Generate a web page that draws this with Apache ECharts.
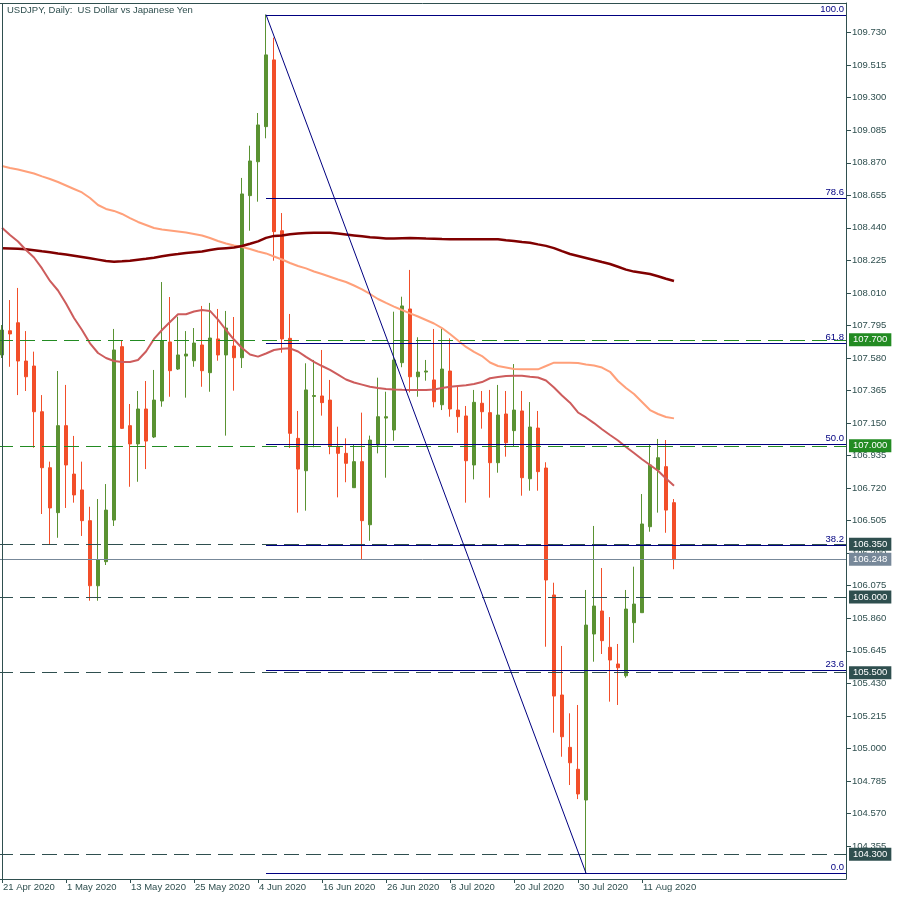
<!DOCTYPE html>
<html><head><meta charset="utf-8">
<script src="https://cdn.jsdelivr.net/npm/echarts@6/dist/echarts.min.js"></script>
<style>html,body{margin:0;padding:0;background:#fff}#c{width:900px;height:900px}</style>
</head><body><div id="c"></div>
<script>
const dates = ["21 Apr 2020","22 Apr 2020","23 Apr 2020","24 Apr 2020","27 Apr 2020","28 Apr 2020","29 Apr 2020","30 Apr 2020",
"1 May 2020","4 May 2020","5 May 2020","6 May 2020","7 May 2020","8 May 2020","11 May 2020","12 May 2020",
"13 May 2020","14 May 2020","15 May 2020","18 May 2020","19 May 2020","20 May 2020","21 May 2020","22 May 2020",
"25 May 2020","26 May 2020","27 May 2020","28 May 2020","29 May 2020","1 Jun 2020","2 Jun 2020","3 Jun 2020",
"4 Jun 2020","5 Jun 2020","8 Jun 2020","9 Jun 2020","10 Jun 2020","11 Jun 2020","12 Jun 2020","15 Jun 2020",
"16 Jun 2020","17 Jun 2020","18 Jun 2020","19 Jun 2020","22 Jun 2020","23 Jun 2020","24 Jun 2020","25 Jun 2020",
"26 Jun 2020","29 Jun 2020","30 Jun 2020","1 Jul 2020","2 Jul 2020","3 Jul 2020","6 Jul 2020","7 Jul 2020",
"8 Jul 2020","9 Jul 2020","10 Jul 2020","13 Jul 2020","14 Jul 2020","15 Jul 2020","16 Jul 2020","17 Jul 2020",
"20 Jul 2020","21 Jul 2020","22 Jul 2020","23 Jul 2020","24 Jul 2020","27 Jul 2020","28 Jul 2020","29 Jul 2020",
"30 Jul 2020","31 Jul 2020","3 Aug 2020","4 Aug 2020","5 Aug 2020","6 Aug 2020","7 Aug 2020","10 Aug 2020",
"11 Aug 2020","12 Aug 2020","13 Aug 2020","14 Aug 2020","17 Aug 2020"];
const futureDates = ["18 Aug 2020","19 Aug 2020","20 Aug 2020","21 Aug 2020","24 Aug 2020","25 Aug 2020","26 Aug 2020","27 Aug 2020",
"28 Aug 2020","31 Aug 2020","1 Sep 2020","2 Sep 2020","3 Sep 2020","4 Sep 2020","7 Sep 2020","8 Sep 2020","9 Sep 2020",
"10 Sep 2020","11 Sep 2020","14 Sep 2020","15 Sep 2020"];

const opens = [107.600,107.760,107.813,107.560,107.527,107.225,106.855,106.558,107.133,106.813,106.708,106.505,106.075,106.234,106.509,107.655,
107.133,107.012,107.243,107.058,107.296,107.686,107.507,107.593,107.562,107.666,107.483,107.706,107.600,107.659,107.582,108.653,
108.877,109.109,109.550,108.421,107.710,107.049,106.835,107.326,107.329,107.302,106.994,106.950,106.723,106.895,106.478,107.005,
107.183,107.104,107.549,107.904,107.456,107.487,107.435,107.271,107.494,107.236,107.197,106.873,107.281,107.219,106.888,107.210,
107.100,107.230,106.782,107.117,106.853,106.014,105.353,105.007,104.862,104.659,105.756,105.908,105.668,105.558,105.480,105.831,
105.897,106.465,106.840,106.862,106.624];
const highs = [107.798,107.963,108.043,107.758,107.622,107.335,106.895,107.494,107.402,107.065,106.895,106.597,106.648,106.747,107.772,107.694,
107.276,107.362,107.428,107.501,108.082,107.983,107.853,107.758,107.778,107.924,107.944,107.904,107.891,107.851,108.770,108.983,
109.199,109.849,109.697,108.538,107.871,107.230,107.545,107.567,107.633,107.435,107.126,107.049,107.005,107.219,107.067,107.450,
107.357,107.886,107.985,108.162,107.717,107.567,107.772,107.772,107.710,107.390,107.263,107.369,107.362,107.369,107.402,107.362,
107.540,107.362,107.289,107.230,106.891,106.095,105.677,105.232,105.287,106.047,106.470,106.192,105.868,105.690,106.047,106.201,
106.681,107.005,107.045,107.038,106.648];
const lows = [107.580,107.522,107.335,107.362,106.987,106.549,106.349,106.392,106.589,106.624,106.404,105.976,105.976,106.212,106.470,107.111,
106.729,106.762,106.846,107.051,107.258,107.324,107.501,107.318,107.522,107.390,107.357,107.562,107.067,107.364,107.514,108.421,
108.613,109.032,108.223,107.615,106.985,106.558,106.571,106.990,107.199,106.944,106.659,106.759,106.723,106.250,106.372,106.950,
106.789,107.033,107.519,107.353,107.324,107.430,107.254,107.236,107.192,107.086,106.624,106.778,107.113,106.657,106.822,106.928,
106.998,106.670,106.703,106.703,105.672,105.104,104.945,104.758,104.665,104.176,105.573,105.624,105.309,105.287,105.467,105.698,
105.897,106.432,106.558,106.425,106.184];
const closes = [107.765,107.739,107.560,107.456,107.225,106.855,106.589,107.133,106.873,106.675,106.505,106.075,106.245,106.575,107.633,107.115,
107.012,107.243,107.031,107.302,107.694,107.496,107.600,107.606,107.679,107.496,107.712,107.600,107.778,107.582,108.664,108.882,
109.120,109.583,108.415,107.706,107.082,106.846,107.369,107.332,107.285,106.998,106.950,106.884,106.895,106.505,107.038,107.192,
107.192,107.567,107.924,107.456,107.487,107.494,107.291,107.507,107.243,107.192,106.901,107.287,107.225,106.888,107.203,107.020,
107.236,106.789,107.124,106.829,106.113,105.346,105.077,104.905,104.699,105.815,105.941,105.712,105.584,105.533,105.921,105.954,
106.483,106.873,106.921,106.575,106.248];

const maSalmon = [108.849,108.836,108.826,108.813,108.799,108.780,108.763,108.743,108.720,108.697,108.674,108.637,108.591,108.565,108.552,108.532,
108.505,108.479,108.459,108.439,108.429,108.423,108.416,108.409,108.400,108.390,108.373,108.353,108.337,108.324,108.314,108.300,
108.284,108.271,108.251,108.231,108.208,108.188,108.172,108.152,108.135,108.117,108.099,108.082,108.059,108.033,108.003,107.970,
107.944,107.920,107.897,107.875,107.854,107.831,107.808,107.778,107.739,107.696,107.653,107.620,107.593,107.550,107.527,107.517,
107.507,107.505,107.505,107.505,107.527,107.549,107.549,107.549,107.547,107.537,107.530,107.517,107.489,107.428,107.382,107.342,
107.289,107.236,107.210,107.190,107.181];
const maMaroon = [108.305,108.304,108.302,108.298,108.292,108.285,108.279,108.271,108.264,108.256,108.248,108.239,108.230,108.221,108.216,108.219,
108.223,108.230,108.236,108.243,108.252,108.261,108.267,108.274,108.279,108.284,108.294,108.302,108.306,108.310,108.320,108.335,
108.351,108.374,108.387,108.390,108.398,108.402,108.406,108.408,108.408,108.408,108.402,108.396,108.390,108.384,108.378,108.374,
108.370,108.369,108.371,108.373,108.371,108.369,108.368,108.366,108.365,108.365,108.365,108.365,108.365,108.365,108.364,108.358,
108.353,108.347,108.342,108.331,108.321,108.306,108.286,108.267,108.254,108.241,108.228,108.214,108.201,108.183,108.164,108.151,
108.143,108.135,108.120,108.104,108.089];
const maRed = [108.441,108.393,108.350,108.294,108.244,108.172,108.089,108.026,107.940,107.844,107.765,107.677,107.613,107.580,107.560,107.554,
107.554,107.567,107.623,107.706,107.765,107.818,107.869,107.869,107.887,107.897,107.891,107.834,107.765,107.702,107.646,107.603,
107.589,107.610,107.633,107.641,107.644,107.623,107.587,107.554,107.527,107.501,107.470,107.438,107.418,107.404,107.390,107.382,
107.375,107.372,107.370,107.369,107.369,107.369,107.372,107.382,107.390,107.395,107.400,107.408,107.421,107.446,107.454,107.461,
107.463,107.462,107.456,107.451,107.431,107.385,107.332,107.285,107.220,107.187,107.150,107.109,107.071,107.035,106.992,106.952,
106.911,106.873,106.835,106.784,106.736];

const yTicks = [109.730,109.515,109.300,109.085,108.870,108.655,108.440,108.225,108.010,107.795,107.580,107.365,107.150,106.935,
106.720,106.505,106.290,106.075,105.860,105.645,105.430,105.215,105.000,104.785,104.570,104.355];
const greenLevels = [107.700, 107.000];
const darkLevels = [106.350, 106.000, 105.500, 104.300];
const bidPrice = 106.248;
const fibRatios = [100.0, 78.6, 61.8, 50.0, 38.2, 23.6, 0.0];
const fibPrices = [109.849, 108.635, 107.682, 107.013, 106.343, 105.515, 104.176];
const fibStartIndex = 33, fibEndIndex = 73;
const title = "USDJPY, Daily:  US Dollar vs Japanese Yen";

const FONT = "Liberation Sans";
const AX = "#2F4F4F";
const allDates = dates.concat(futureDates);
const ohlc = opens.map((o, i) => [o, closes[i], lows[i], highs[i]]);

function levelLine(v, color, dashed) {
  return {
    yAxis: v,
    lineStyle: { color: color, width: 1, type: dashed ? [15, 7] : 'solid' },
    label: { show: true, position: 'end', distance: 3, formatter: v.toFixed(3), color: '#fff',
      backgroundColor: color, padding: [2, 4, 1, 4], fontFamily: FONT, fontSize: 9.5 }
  };
}

const chart = echarts.init(document.getElementById('c'), null, { renderer: 'canvas' });
chart.setOption({
  animation: false,
  backgroundColor: '#fff',
  title: { text: title, left: 7, top: 5, padding: 0, textStyle: { fontFamily: FONT, fontSize: 9.5, fontWeight: 'normal', color: AX } },
  grid: { left: -2, right: 54, top: 3, bottom: 21, containLabel: false, outerBoundsMode: 'none' },
  xAxis: [{
    type: 'category', data: allDates, boundaryGap: true, position: 'bottom',
    axisLine: { show: true, lineStyle: { color: AX, width: 1 } },
    axisTick: { show: true, alignWithLabel: true, length: 4, lineStyle: { color: AX },
      interval: (i) => i % 8 === 0 && i < dates.length },
    axisLabel: { show: true, align: 'left', margin: 3, color: AX, fontFamily: FONT, fontSize: 9.5, padding: [0, 0, 0, 1],
      interval: (i) => i % 8 === 0 && i < dates.length, hideOverlap: false },
    splitLine: { show: false }
  }, {
    type: 'category', data: allDates, position: 'top', boundaryGap: true,
    axisLine: { show: true, lineStyle: { color: AX, width: 1 } },
    axisTick: { show: false }, axisLabel: { show: false }, splitLine: { show: false }
  }],
  yAxis: {
    type: 'value', position: 'right', min: 104.137, max: 109.926, scale: true,
    axisLine: { show: true, lineStyle: { color: AX, width: 1 } },
    axisTick: { show: true, length: 5, lineStyle: { color: AX }, customValues: yTicks },
    axisLabel: { show: true, margin: 6, color: AX, fontFamily: FONT, fontSize: 9.5, customValues: yTicks,
      formatter: (v) => v.toFixed(3) },
    splitLine: { show: false }
  },
  series: [
    {
      name: 'levels', type: 'line', data: [], z: 1, silent: true,
      markLine: {
        symbol: 'none', silent: true, animation: false,
        data: [
          ...greenLevels.map(v => levelLine(v, '#228B22', true)),
          ...darkLevels.map(v => levelLine(v, AX, true)),
          levelLine(bidPrice, '#778899', false),
          { xAxis: 0, lineStyle: { color: AX, width: 1, type: 'solid' }, label: { show: false } }
        ]
      }
    },
    {
      name: 'USDJPY', type: 'candlestick', data: ohlc, z: 3, barWidth: 4,
      itemStyle: { color: '#5A9232', color0: '#F24E29', borderColor: '#5A9232', borderColor0: '#F24E29', borderWidth: 1 },
      markLine: {
        symbol: 'none', silent: true, animation: false,
        lineStyle: { color: '#000080', width: 1, type: 'solid' }, label: { show: false },
        data: [[{ coord: [fibStartIndex, fibPrices[0]] }, { coord: [fibEndIndex, fibPrices[fibPrices.length - 1]] }]]
      }
    },
    { name: 'MA salmon', type: 'line', data: maSalmon, symbol: 'none', z: 4, lineStyle: { color: '#FFA07A', width: 2 } },
    { name: 'MA maroon', type: 'line', data: maMaroon, symbol: 'none', z: 4, lineStyle: { color: '#800000', width: 2.5 } },
    { name: 'MA red', type: 'line', data: maRed, symbol: 'none', z: 4, lineStyle: { color: '#CD5C5C', width: 2 } },
    {
      name: 'fib', type: 'custom', z: 5, silent: true,
      data: fibPrices.map((p, i) => [fibStartIndex, p, fibRatios[i]]),
      renderItem: (params, api) => {
        const s = api.coord([api.value(0), api.value(1)]);
        const right = params.coordSys.x + params.coordSys.width;
        const y = Math.round(s[1]) + 0.5;
        return { type: 'group', children: [
          { type: 'line', shape: { x1: s[0], y1: y, x2: right, y2: y }, style: { stroke: '#000080', lineWidth: 1 } },
          { type: 'text', style: { text: api.value(2).toFixed(1), x: right - 2, y: y - 1, align: 'right', verticalAlign: 'bottom',
            fill: '#000080', font: '9.5px ' + FONT } }
        ]};
      }
    }
  ]
});
</script></body></html>
